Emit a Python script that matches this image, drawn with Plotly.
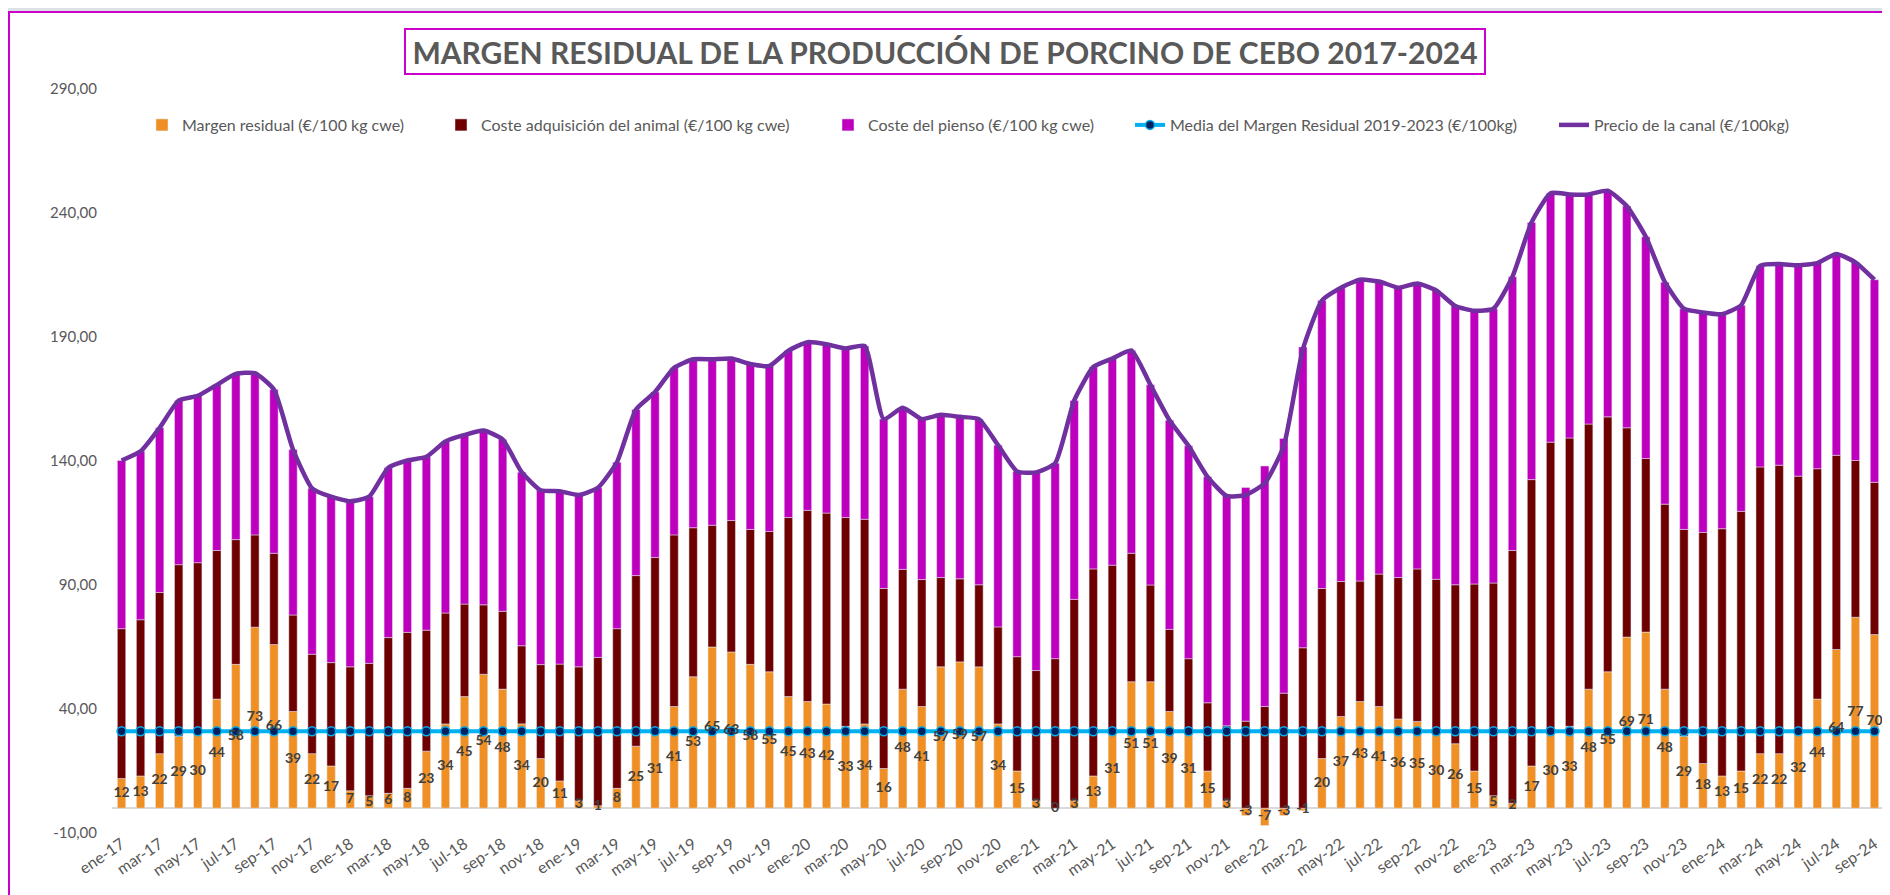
import plotly.graph_objects as go

# ---------------- data ----------------
MESES_ABR = ["ene", "feb", "mar", "abr", "may", "jun", "jul", "ago", "sep", "oct", "nov", "dic"]
ANIOS = ["17", "18", "19", "20", "21", "22", "23", "24"]
meses = [f"{m}-{a}" for a in ANIOS for m in MESES_ABR][:93]   # ene-17 ... sep-24

margen = [12, 13, 22, 29, 30, 44, 58, 73, 66, 39, 22, 17,
          7, 5, 6, 8, 23, 34, 45, 54, 48, 34, 20, 11,
          3, 1, 8, 25, 31, 41, 53, 65, 63, 58, 55, 45,
          43, 42, 33, 34, 16, 48, 41, 57, 59, 57, 34, 15,
          3, 0, 3, 13, 31, 51, 51, 39, 31, 15, 3, -3,
          -7, -3, -1, 20, 37, 43, 41, 36, 35, 30, 26, 15,
          5, 2, 17, 30, 33, 48, 55, 69, 71, 48, 29, 18,
          13, 15, 22, 22, 32, 44, 64, 77, 70]

adquisicion = [60.4, 63.0, 65.0, 69.2, 69.0, 59.9, 50.3, 37.2, 36.8, 38.9, 40.1, 41.7,
               50.0, 53.4, 62.8, 62.9, 48.8, 44.7, 37.3, 28.0, 31.4, 31.5, 37.9, 47.1,
               54.0, 59.8, 64.4, 68.8, 70.1, 69.2, 60.1, 49.1, 53.0, 54.4, 56.6, 72.2,
               77.1, 77.0, 84.2, 82.5, 72.6, 48.3, 51.2, 36.0, 33.5, 33.1, 39.1, 46.1,
               52.5, 60.3, 81.2, 83.5, 67.0, 51.8, 39.0, 33.1, 29.3, 27.5, 30.2, 35.1,
               41.0, 46.4, 64.7, 68.6, 54.4, 48.6, 53.4, 57.0, 61.5, 62.3, 64.1, 75.4,
               85.8, 101.9, 115.5, 117.6, 116.3, 106.9, 102.8, 84.4, 70.0, 74.6, 83.4, 93.2,
               99.7, 104.7, 115.6, 116.3, 101.9, 92.9, 78.3, 63.2, 61.4]

pienso = [67.8, 67.9, 66.4, 66.2, 67.3, 66.8, 66.8, 65.2, 66.0, 66.7, 66.9, 66.9,
          66.8, 67.2, 68.5, 69.3, 69.9, 69.2, 68.2, 70.3, 69.3, 70.0, 70.3, 69.7,
          69.3, 68.4, 67.1, 67.0, 66.7, 67.4, 67.9, 66.9, 65.3, 66.7, 66.7, 67.3,
          67.8, 68.1, 68.2, 69.9, 68.3, 65.2, 64.7, 65.6, 65.3, 66.8, 73.3, 74.7,
          79.9, 78.8, 80.2, 81.4, 83.3, 81.8, 80.7, 84.3, 85.8, 91.1, 92.7, 94.2,
          97.0, 102.7, 121.3, 116.1, 118.5, 121.5, 118.0, 116.9, 115.1, 116.5, 112.4, 110.2,
          110.6, 110.4, 103.7, 100.4, 98.2, 92.6, 91.2, 89.4, 89.4, 89.5, 89.0, 88.7,
          86.5, 83.1, 81.1, 81.1, 85.0, 82.9, 81.2, 79.9, 81.7]

precio = [140.2, 143.9, 153.4, 164.4, 166.3, 170.7, 175.1, 175.4, 168.8, 144.6, 129.0, 125.6,
          123.8, 125.6, 137.3, 140.2, 141.7, 147.9, 150.5, 152.3, 148.7, 135.5, 128.2, 127.8,
          126.3, 129.2, 139.5, 160.8, 167.8, 177.6, 181.0, 181.0, 181.3, 179.1, 178.3, 184.5,
          187.9, 187.1, 185.4, 186.4, 156.9, 161.5, 156.9, 158.6, 157.8, 156.9, 146.4, 135.8,
          135.4, 139.1, 164.4, 177.9, 181.3, 184.6, 170.7, 156.4, 146.1, 133.6, 125.9, 126.3,
          131.0, 146.1, 185.0, 204.7, 209.9, 213.1, 212.4, 209.9, 211.6, 208.8, 202.5, 200.6,
          201.4, 214.3, 236.2, 248.0, 247.5, 247.5, 249.0, 242.8, 230.4, 212.1, 201.4, 199.9,
          199.2, 202.8, 218.7, 219.4, 218.9, 219.8, 223.5, 220.1, 213.1]

MEDIA_2019_2023 = 31.0
media = [MEDIA_2019_2023] * len(meses)

Y_TICKS = [-10, 40, 90, 140, 190, 240, 290]
Y_TICKTEXT = [f"{v:.2f}".replace(".", ",") for v in Y_TICKS]
X_TICKS = meses[::2]

TITULO = "MARGEN RESIDUAL DE LA PRODUCCIÓN DE PORCINO DE CEBO 2017-2024"
N_MARGEN = "Margen residual (€/100 kg cwe)"
N_ADQ = "Coste adquisición del animal (€/100 kg cwe)"
N_PIENSO = "Coste del pienso (€/100 kg cwe)"
N_MEDIA = "Media del Margen Residual 2019-2023 (€/100kg)"
N_PRECIO = "Precio de la canal (€/100kg)"

# ---------------- style ----------------
FONT = "Lato"
GRIS = "#595959"
ORANGE = "#EF8F24"
DARKRED = "#6E0000"
MAGENTA = "#BE00BE"
PURPLE = "#7030A0"
CYAN = "#00B0F0"
NAVY = "#002060"
FRAME = "#CC00CC"

# the page body adds an 8 px offset; the figure is laid out in its own coordinates
OFF = 8
W, H = 1882, 887
ML, MT = 112 - OFF, 89 - OFF
PW, PH = 1772, 744
MR, MB = W - ML - PW, H - MT - PH


def sx(px):   # screen x -> paper x
    return (px - OFF - ML) / PW


def sy(py):   # screen y -> paper y
    return 1 + (MT - (py - OFF)) / PH


LEG_TEXT_X = [181, 480, 867, 1169, 1593]   # screen x where each legend text starts
LEG_Y = 125

fig = go.Figure()
fig.add_trace(go.Bar(x=meses, y=margen, name=N_MARGEN, marker_color=ORANGE, legend="legend"))
fig.add_trace(go.Bar(x=meses, y=adquisicion, name=N_ADQ, marker_color=DARKRED, legend="legend2"))
fig.add_trace(go.Bar(x=meses, y=pienso, name=N_PIENSO, marker_color=MAGENTA, legend="legend3"))
fig.add_trace(go.Scatter(x=meses, y=media, name=N_MEDIA, mode="lines+markers", legend="legend4",
                         line=dict(color=CYAN, width=4),
                         marker=dict(size=9, color=NAVY, line=dict(color=CYAN, width=1.5))))
fig.add_trace(go.Scatter(x=meses, y=precio, name=N_PRECIO, mode="lines", legend="legend5",
                         line=dict(color=PURPLE, width=4.5, shape="spline", smoothing=0.5)))
fig.add_trace(go.Scatter(x=meses, y=[m / 2 for m in margen], mode="text",
                         text=[str(m) for m in margen], textposition="middle center",
                         textfont=dict(family=FONT, size=14, color="#404040", weight="bold"),
                         showlegend=False, hoverinfo="skip", cliponaxis=False))

legend_style = dict(orientation="h", xanchor="left", yanchor="middle",
                    bgcolor="rgba(0,0,0,0)", font=dict(family=FONT, size=16, color=GRIS))
legends = {}
for i, tx in enumerate(LEG_TEXT_X):
    key = "legend" if i == 0 else f"legend{i + 1}"
    legends[key] = dict(legend_style, x=sx(tx - 39), y=sy(LEG_Y))

fig.update_layout(
    width=W, height=H,
    margin=dict(l=ML, r=MR, t=MT, b=MB, autoexpand=False),
    barmode="relative", bargap=0.56,
    paper_bgcolor="#DCE3E6", plot_bgcolor="white",
    font=dict(family=FONT, size=15, color=GRIS),
    showlegend=True,
    xaxis=dict(type="category", range=[-0.5, len(meses) - 0.5], autorange=False,
               tickmode="array", tickvals=X_TICKS, ticktext=X_TICKS,
               tickangle=-34, showgrid=False, showline=False, ticks="", automargin=False,
               ticklabelstandoff=-2,
               tickfont=dict(family=FONT, size=16, color=GRIS)),
    yaxis=dict(range=[-10, 290], autorange=False, tickmode="array", tickvals=Y_TICKS,
               ticktext=Y_TICKTEXT, showgrid=False, zeroline=True, zerolinecolor="#D9D9D9",
               zerolinewidth=2, showline=False, ticks="", automargin=False,
               ticklabelstandoff=14,
               tickfont=dict(family=FONT, size=15, color=GRIS)),
    shapes=[dict(type="rect", xref="paper", yref="paper",
                 x0=sx(9), x1=sx(1887), y0=sy(960), y1=sy(12),
                 fillcolor="white", line=dict(color=FRAME, width=2), layer="below")],
    annotations=[dict(text=f"<b>{TITULO}</b>", xref="paper", yref="paper",
                      x=sx(945), y=sy(52), xanchor="center", yanchor="middle",
                      showarrow=False, font=dict(family=FONT, size=30, color=GRIS),
                      bordercolor=FRAME, borderwidth=2, borderpad=2,
                      width=1074, height=39, bgcolor="white")],
    **legends,
)

fig.write_html("out.html")
